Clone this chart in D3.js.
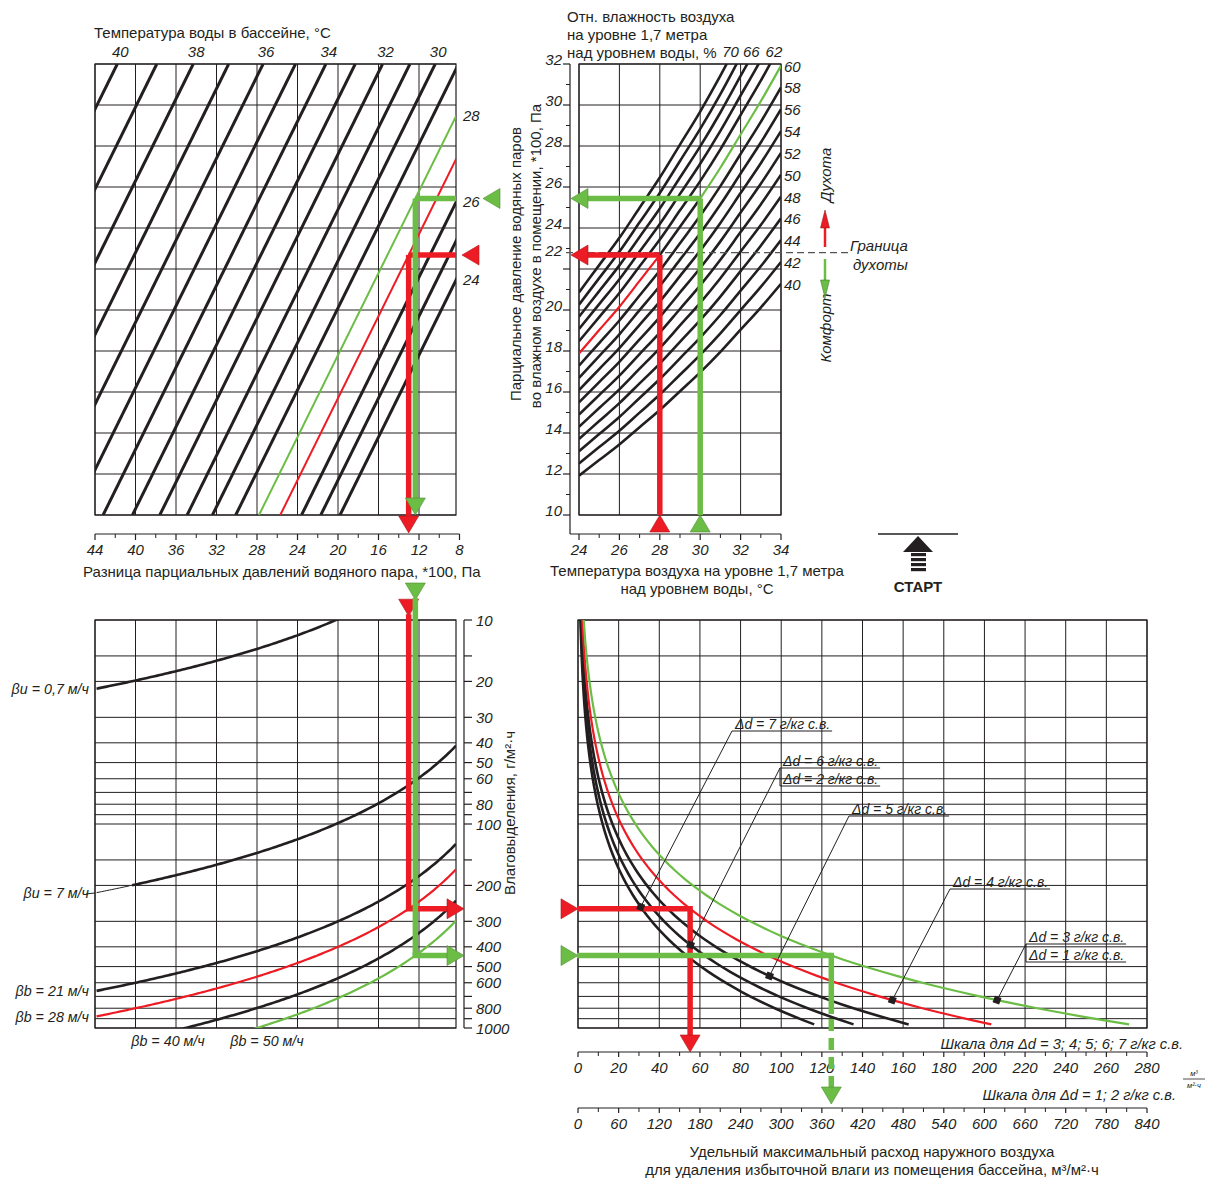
<!DOCTYPE html>
<html>
<head>
<meta charset="utf-8">
<title>Номограмма для расчёта воздухообмена бассейна</title>
<script src="https://cdnjs.cloudflare.com/ajax/libs/d3/7.8.5/d3.min.js"></script>
<style>
    body { margin: 0; background: #fff; }
    text { font-family: "Liberation Sans", Arial, sans-serif; fill: #231f20; }
    .it { font-style: italic; }
</style>
</head>
<body>
<div id="chart"></div>
<script>
    // ---- data ----
    var waterTemps = [24, 25, 26, 27, 28, 29, 30, 31, 32, 33, 34, 35, 36, 37, 38, 39, 40];
    // saturation pressure at each temperature, *100 Pa
    var satPressure = [29.8, 31.7, 33.6, 35.7, 37.8, 40.1, 42.4, 44.9, 47.6, 50.3, 53.2, 56.2, 59.4, 62.8, 66.3, 69.9, 73.8];
    var waterTopLabels = [40, 38, 36, 34, 32, 30];
    var waterSideLabels = [28, 26, 24];

    var airTemps = [24, 25, 26, 27, 28, 29, 30, 31, 32, 33, 34];
    var humidityLevels = [40, 42, 44, 46, 48, 50, 52, 54, 56, 58, 60, 62, 64, 66, 68, 70];
    var humiditySideLabels = [40, 42, 44, 46, 48, 50, 52, 54, 56, 58, 60];
    var humidityTopLabels = [70, 66, 62];
    var stuffyBorder = 22.8;

    var diffLabels = [44, 40, 36, 32, 28, 24, 20, 16, 12, 8];
    var diffMinor = [42, 38, 34, 30, 26, 22, 18, 14, 10];
    var pressureLabels = [10, 12, 14, 16, 18, 20, 22, 24, 26, 28, 30, 32];
    var pressureMinor = [11, 13, 15, 17, 19, 21, 23, 25, 27, 29, 31];
    var airLabels = [24, 26, 28, 30, 32, 34];
    var airMinor = [25, 27, 29, 31, 33];

    var rateTicks = [10, 15, 20, 30, 40, 50, 60, 70, 80, 90, 100, 150, 200, 300, 400, 500, 600, 700, 800, 900, 1000];
    var rateLabels = [10, 20, 30, 40, 50, 60, 80, 100, 200, 300, 400, 500, 600, 800, 1000];

    var betaNames = ["βu = 0,7 м/ч", "βu = 7 м/ч", "βb = 21 м/ч", "βb = 28 м/ч", "βb = 40 м/ч", "βb = 50 м/ч"];
    // moisture release per 100 Pa of pressure difference, g/(m²·h)
    var betaRates = [0.495, 4.95, 15, 20, 28.5, 35.7];

    var deltaD = [7, 6, 5, 4, 3];
    var deltaDNames = [["Δd = 7 г/кг с.в."], ["Δd = 6 г/кг с.в.", "Δd = 2 г/кг с.в."], ["Δd = 5 г/кг с.в."],
        ["Δd = 4 г/кг с.в."], ["Δd = 3 г/кг с.в.", "Δd = 1 г/кг с.в."]];
    var markerRates = [255, 392, 556, 730, 730];
    var airDensity = 1.18;
    var curveEndRate = 960;

    var flowLabels1 = [0, 20, 40, 60, 80, 100, 120, 140, 160, 180, 200, 220, 240, 260, 280];
    var flowMinor1 = [10, 30, 50, 70, 90, 110, 130, 150, 170, 190, 210, 230, 250, 270];
    var flowLabels2 = [0, 60, 120, 180, 240, 300, 360, 420, 480, 540, 600, 660, 720, 780, 840];
    var flowMinor2 = [30, 90, 150, 210, 270, 330, 390, 450, 510, 570, 630, 690, 750, 810];

    // two worked examples: red and green
    var routeWater = [27, 28];
    var routeAir = [28, 30];
    var routeHumidity = [60, 60];
    var routeHumiditySpan = [[24, 28], [30, 34]];
    var routeBeta = [3, 5];
    var routeDeltaD = [4, 1];

    // ---- styles ----
    var red = "#ed1c24", green = "#6cbd45", ink = "#231f20";
    var routeColor = [red, green];
    var routeSideOffset = [6, 27];
    var routeDropOffset = [18, 0];
    var fTitle = 15, fTick = 15, fNote = 14.3;

    function ps(t) { return satPressure[waterTemps.indexOf(t)]; }

    var svg = d3.select("#chart").append("svg").attr("width", 1206).attr("height", 1180);
    var defs = svg.append("defs");

    function clipRect(id, x0, y0, x1, y1) {
        defs.append("clipPath").attr("id", id).append("rect")
            .attr("x", x0).attr("y", y0).attr("width", x1 - x0).attr("height", y1 - y0);
    }

    function line(g, x1, y1, x2, y2, color, w) {
        return g.append("line").attr("x1", x1).attr("y1", y1).attr("x2", x2).attr("y2", y2)
            .attr("stroke", color).attr("stroke-width", w);
    }

    function label(g, x, y, txt, anchor, size, cls) {
        return g.append("text").attr("x", x).attr("y", y).attr("text-anchor", anchor || "start")
            .attr("font-size", size || fTick).attr("class", cls || "").text(txt);
    }

    function tri(g, tipX, tipY, dir, color) {
        var L = 17, h = 10, p;
        if (dir === "left") p = [[tipX, tipY], [tipX + L, tipY - h], [tipX + L, tipY + h]];
        else if (dir === "right") p = [[tipX, tipY], [tipX - L, tipY - h], [tipX - L, tipY + h]];
        else if (dir === "down") p = [[tipX, tipY], [tipX - h, tipY - L], [tipX + h, tipY - L]];
        else p = [[tipX, tipY], [tipX - h, tipY + L], [tipX + h, tipY + L]];
        g.append("path").attr("d", "M" + p.join("L") + "Z").attr("fill", color)
            .attr("stroke", d3.color(color).darker(0.8)).attr("stroke-width", 0.6);
    }

    // ---- scales ----
    var xDiff = d3.scaleLinear().domain([44, 12]).range([95, 419]);
    var yPress = d3.scaleLinear().domain([10, 32]).range([515, 64]);
    var xAir = d3.scaleLinear().domain([24, 34]).range([579, 781]);
    var yRate = d3.scaleLog().domain([10, 1000]).range([620, 1028]);
    var xFlow1 = d3.scaleLinear().domain([0, 280]).range([578, 1147]);
    var xFlow2 = d3.scaleLinear().domain([0, 840]).range([578, 1147]);

    var TL = { x0: 95, x1: 456, y0: 64, y1: 515 };
    var TR = { x0: 579, x1: 781, y0: 64, y1: 515 };
    var BL = { x0: 95, x1: 456, y0: 620, y1: 1028 };
    var BR = { x0: 578, x1: 1147, y0: 620, y1: 1028 };
    clipRect("cTL", TL.x0, TL.y0, TL.x1, TL.y1);
    clipRect("cTR", TR.x0, TR.y0, TR.x1, TR.y1);
    clipRect("cBL", BL.x0, BL.y0, BL.x1, BL.y1);
    clipRect("cBR", BR.x0, BR.y0, BR.x1, BR.y1);

    var diffGrid = diffLabels.concat(diffMinor).filter(function(d) { return d % 4 === 0 && xDiff(d) < TL.x1; });

    // ===== top-left: water temperature lines =====
    var tl = svg.append("g");
    diffGrid.forEach(function(d) { line(tl, xDiff(d), TL.y0, xDiff(d), TL.y1, ink, 1); });
    pressureLabels.forEach(function(p) { line(tl, TL.x0, yPress(p), TL.x1, yPress(p), ink, 1); });
    tl.append("rect").attr("x", TL.x0).attr("y", TL.y0).attr("width", TL.x1 - TL.x0).attr("height", TL.y1 - TL.y0)
        .attr("fill", "none").attr("stroke", ink).attr("stroke-width", 1.2);

    var tlLines = tl.append("g").attr("clip-path", "url(#cTL)");
    waterTemps.forEach(function(t) {
        var r = routeWater.indexOf(t);
        line(tlLines, xDiff(ps(t) - 10), yPress(10), xDiff(ps(t) - 32), yPress(32),
            r < 0 ? ink : routeColor[r], r < 0 ? 3 : 2);
    });
    waterTopLabels.forEach(function(t) {
        label(tl, xDiff(ps(t) - 32) + 3, 57, t, "middle", fTick, "it");
    });
    var edgeDiff = xDiff.invert(TL.x1);
    waterSideLabels.forEach(function(t) {
        label(tl, TL.x1 + 7, yPress(ps(t) - edgeDiff) + 5, t, "start", fTick, "it");
    });
    label(tl, 94, 38, "Температура воды в бассейне, °С", "start", fTitle);

    // axis under top-left
    var axY = 534;
    line(tl, xDiff(44), axY, xDiff(8), axY, ink, 1.2);
    diffLabels.forEach(function(d) {
        line(tl, xDiff(d), axY, xDiff(d), axY + 6, ink, 1.2);
        label(tl, xDiff(d), axY + 21, d, "middle", fTick, "it");
    });
    diffMinor.forEach(function(d) { line(tl, xDiff(d), axY, xDiff(d), axY + 4, ink, 1); });
    label(tl, 83, 577, "Разница парциальных давлений водяного пара, *100, Па", "start", fTitle);

    // ===== top-right: relative humidity lines =====
    var tr = svg.append("g");
    airLabels.forEach(function(t) { line(tr, xAir(t), TR.y0, xAir(t), TR.y1, ink, 1); });
    pressureLabels.forEach(function(p) { line(tr, TR.x0, yPress(p), TR.x1, yPress(p), ink, 1); });
    tr.append("rect").attr("x", TR.x0).attr("y", TR.y0).attr("width", TR.x1 - TR.x0).attr("height", TR.y1 - TR.y0)
        .attr("fill", "none").attr("stroke", ink).attr("stroke-width", 1.2);

    var trLines = tr.append("g").attr("clip-path", "url(#cTR)");
    var humLine = d3.line().curve(d3.curveMonotoneX)
        .x(function(d) { return xAir(d[0]); }).y(function(d) { return yPress(d[1]); });
    humidityLevels.forEach(function(h) {
        var pts = airTemps.map(function(t) { return [t, h / 100 * ps(t)]; });
        var r = routeHumidity.indexOf(h);
        if (r < 0) {
            trLines.append("path").attr("d", humLine(pts)).attr("fill", "none").attr("stroke", ink).attr("stroke-width", 2.6);
            return;
        }
        // black between the highlighted spans, coloured on the spans
        var lo = routeHumiditySpan[0][1], hi = routeHumiditySpan[1][0];
        trLines.append("path").attr("d", humLine(pts.filter(function(d) { return d[0] >= lo && d[0] <= hi; })))
            .attr("fill", "none").attr("stroke", ink).attr("stroke-width", 2.6);
        routeHumiditySpan.forEach(function(s, i) {
            trLines.append("path").attr("d", humLine(pts.filter(function(d) { return d[0] >= s[0] && d[0] <= s[1]; })))
                .attr("fill", "none").attr("stroke", routeColor[i]).attr("stroke-width", 2.2);
        });
    });
    humiditySideLabels.forEach(function(h) {
        label(tr, TR.x1 + 3, yPress(h / 100 * ps(34)) + 6, h, "start", fTick, "it");
    });
    humidityTopLabels.forEach(function(h) {
        // temperature where the line leaves the top edge
        var target = 32 * 100 / h, t0 = 24;
        for (var i = 0; i < airTemps.length - 1; i++) {
            if (ps(airTemps[i]) <= target && ps(airTemps[i + 1]) >= target) {
                t0 = airTemps[i] + (target - ps(airTemps[i])) / (ps(airTemps[i + 1]) - ps(airTemps[i]));
            }
        }
        label(tr, xAir(t0) + 4, 57, h, "middle", fTick, "it");
    });

    // left axis of top-right
    var axX = 570;
    line(tr, axX, TR.y0, axX, axY, ink, 1.2);
    pressureLabels.forEach(function(p) {
        line(tr, axX - 7, yPress(p), axX, yPress(p), ink, 1.2);
        if (p !== 22) label(tr, axX - 8, yPress(p) + 1, p, "end", fTick, "it");
    });
    label(tr, axX - 8, yPress(stuffyBorder) + 3, 22, "end", fTick, "it");
    pressureMinor.forEach(function(p) { line(tr, axX - 4, yPress(p), axX, yPress(p), ink, 1); });
    // bottom axis of top-right
    line(tr, axX, axY, TR.x1, axY, ink, 1.2);
    airLabels.forEach(function(t) {
        line(tr, xAir(t), axY, xAir(t), axY + 6, ink, 1.2);
        label(tr, xAir(t), axY + 21, t, "middle", fTick, "it");
    });
    airMinor.forEach(function(t) { line(tr, xAir(t), axY, xAir(t), axY + 4, ink, 1); });

    label(tr, 567, 22, "Отн. влажность воздуха", "start", fTitle);
    label(tr, 567, 40, "на уровне 1,7 метра", "start", fTitle);
    label(tr, 567, 58, "над уровнем воды, %", "start", fTitle);
    label(tr, 697, 576, "Температура воздуха на уровне 1,7 метра", "middle", fTitle);
    label(tr, 697, 594, "над уровнем воды, °С", "middle", fTitle);
    label(tr, 0, 0, "Парциальное давление водяных паров", "middle", fTitle)
        .attr("transform", "translate(521,264) rotate(-90)");
    label(tr, 0, 0, "во влажном воздухе в помещении, *100, Па", "middle", fTitle)
        .attr("transform", "translate(541,256) rotate(-90)");

    // stuffiness border
    line(tr, 566, yPress(stuffyBorder), 848, yPress(stuffyBorder), "#555", 1.2).attr("stroke-dasharray", "7,4");
    label(tr, 850, yPress(stuffyBorder) - 2, "Граница", "start", fTitle, "it");
    label(tr, 853, yPress(stuffyBorder) + 17, "духоты", "start", fTitle, "it");
    label(tr, 0, 0, "Духота", "middle", fTitle, "it").attr("transform", "translate(831,175) rotate(-90)");
    label(tr, 0, 0, "Комфорт", "middle", fTitle, "it").attr("transform", "translate(831,328) rotate(-90)");
    line(tr, 825, 247, 825, 226, red, 2.5);
    tr.append("path").attr("d", "M825,210L820.5,228L829.5,228Z").attr("fill", red).attr("stroke", "#7a1010").attr("stroke-width", 0.5);
    line(tr, 825, 259, 825, 281, green, 2.5);
    tr.append("path").attr("d", "M825,298L820.5,280L829.5,280Z").attr("fill", green).attr("stroke", "#2f6b1c").attr("stroke-width", 0.5);

    // start marker
    var st = svg.append("g");
    line(st, 878, axY, 958, axY, ink, 1.3);
    st.append("path").attr("d", "M918,536L903,552L933,552Z").attr("fill", ink);
    [553, 558, 563, 568].forEach(function(y) {
        st.append("rect").attr("x", 911).attr("y", y).attr("width", 15).attr("height", 3.2).attr("fill", ink);
    });
    label(st, 918, 592, "СТАРТ", "middle", 15).attr("font-weight", "bold");

    // ===== bottom-left: moisture release =====
    var bl = svg.append("g");
    diffGrid.forEach(function(d) { line(bl, xDiff(d), BL.y0, xDiff(d), BL.y1, ink, 1); });
    rateTicks.forEach(function(w) { line(bl, BL.x0, yRate(w), BL.x1, yRate(w), ink, 1); });
    bl.append("rect").attr("x", BL.x0).attr("y", BL.y0).attr("width", BL.x1 - BL.x0).attr("height", BL.y1 - BL.y0)
        .attr("fill", "none").attr("stroke", ink).attr("stroke-width", 1.2);

    var blLines = bl.append("g").attr("clip-path", "url(#cBL)");
    var diffSamples = d3.range(edgeDiff, 44.001, 0.25);
    var rateLine = d3.line()
        .x(function(d) { return xDiff(d[0]); }).y(function(d) { return yRate(d[1]); });
    betaRates.forEach(function(k, i) {
        var r = routeBeta.indexOf(i);
        var col = r < 0 ? ink : routeColor[r];
        var samples = diffSamples.filter(function(d) { return i !== 1 || d <= 40.5; });
        blLines.append("path").attr("d", rateLine(samples.map(function(d) { return [d, k * d]; })))
            .attr("fill", "none").attr("stroke", col).attr("stroke-width", r < 0 ? 2.6 : 2.2);
        if (i === 1) {
            var thin = diffSamples.filter(function(d) { return d >= 40.5; });
            blLines.append("path").attr("d", rateLine(thin.map(function(d) { return [d, k * d]; })))
                .attr("fill", "none").attr("stroke", ink).attr("stroke-width", 1);
        }
    });
    [0, 1, 2, 3].forEach(function(i) {
        var y = yRate(betaRates[i] * 44);
        label(bl, 89, y + 5, betaNames[i], "end", fNote, "it");
        if (i === 1) line(bl, 86, y + 1, BL.x0, y, ink, 1);
    });
    [[4, 168], [5, 267]].forEach(function(p) {
        bl.append("rect").attr("x", p[1] - 40).attr("y", BL.y1 + 1).attr("width", 80).attr("height", 20).attr("fill", "#fff");
        label(bl, p[1], 1046, betaNames[p[0]], "middle", fNote, "it");
    });

    var rx = 464;
    line(bl, rx, BL.y0, rx, BL.y1, ink, 1.2);
    rateTicks.forEach(function(w) { line(bl, rx, yRate(w), rx + 8, yRate(w), ink, 1.2); });
    rateLabels.forEach(function(w) { label(bl, rx + 12, yRate(w) + 5.5, w, "start", fTick, "it"); });
    label(bl, 0, 0, "Влаговыделения, г/м²·ч", "middle", fTitle).attr("transform", "translate(515,813) rotate(-90)");

    // ===== bottom-right: specific air flow =====
    var br = svg.append("g");
    flowLabels1.forEach(function(f) { line(br, xFlow1(f), BR.y0, xFlow1(f), BR.y1, ink, 1); });
    rateTicks.forEach(function(w) { line(br, BR.x0, yRate(w), BR.x1, yRate(w), ink, 1); });
    br.append("rect").attr("x", BR.x0).attr("y", BR.y0).attr("width", BR.x1 - BR.x0).attr("height", BR.y1 - BR.y0)
        .attr("fill", "none").attr("stroke", ink).attr("stroke-width", 1.2);

    var brLines = br.append("g").attr("clip-path", "url(#cBR)");
    var rateSamples = d3.range(0, 1.0001, 0.01).map(function(t) { return 10 * Math.pow(curveEndRate / 10, t); });
    var curveTone = { 4: red, 3: green };
    var flowLine = d3.line().x(function(d) { return xFlow1(d[0]); }).y(function(d) { return yRate(d[1]); });
    deltaD.forEach(function(dd) {
        brLines.append("path")
            .attr("d", flowLine(rateSamples.map(function(w) { return [w / (airDensity * dd), w]; })))
            .attr("fill", "none").attr("stroke", curveTone[dd] || ink).attr("stroke-width", curveTone[dd] ? 2.2 : 2.6);
    });

    // ===== example routes =====
    var routes = svg.append("g");
    function routeValues(i) {
        var p = routeHumidity[i] / 100 * ps(routeAir[i]);
        var dp = ps(routeWater[i]) - p;
        var w = betaRates[routeBeta[i]] * dp;
        var flow = w / (airDensity * routeDeltaD[i]);
        return { p: p, dp: dp, w: w, xf: routeDeltaD[i] >= 3 ? xFlow1(flow) : xFlow2(flow) };
    }
    var lw = 5.5;
    routeWater.forEach(function(tw, i) {
        var col = routeColor[i], v = routeValues(i);
        var x1 = xDiff(v.dp), y1 = yPress(v.p), xa = xAir(routeAir[i]);
        // top-right
        line(routes, TR.x0 + 8, y1, xa, y1, col, lw);
        line(routes, xa, y1, xa, TR.y1, col, lw);
        tri(routes, TR.x0 - 8, y1, "left", col);
        tri(routes, xa, TR.y1, "up", col);
        // top-left
        line(routes, x1, y1, TL.x1, y1, col, lw);
        line(routes, x1, y1, x1, TL.y1 + routeDropOffset[i] - 15, col, lw);
        tri(routes, TL.x1 + routeSideOffset[i], y1, "left", col);
        tri(routes, x1, TL.y1 + routeDropOffset[i], "down", col);
    });
    // entry marks above bottom-left: red first, green drawn over it
    routeWater.forEach(function(tw, i) {
        var v = routeValues(i);
        tri(routes, xDiff(v.dp), 600 + routeDropOffset[i] * 0.9, "down", routeColor[i]);
    });
    routeWater.forEach(function(tw, i) {
        var col = routeColor[i], v = routeValues(i);
        var x1 = xDiff(v.dp), yw = yRate(v.w), xf = v.xf;
        // bottom-left
        line(routes, x1, 598 + routeDropOffset[i] * 0.9, x1, yw, col, lw);
        line(routes, x1 - lw / 2, yw, rx - 17, yw, col, lw);
        tri(routes, rx, yw, "right", col);
        // bottom-right
        tri(routes, BR.x0, yw, "right", col);
        line(routes, BR.x0 - 1, yw, xf, yw, col, lw);
        var axisTip = routeDeltaD[i] >= 3 ? 1052 : 1104;
        if (routeDeltaD[i] >= 3) {
            line(routes, xf, yw - lw / 2, xf, axisTip - 15, col, lw);
        } else {
            line(routes, xf, yw - lw / 2, xf, BR.y1 - 14, col, lw);
            line(routes, xf, BR.y1 - 9, xf, axisTip - 17, col, lw).attr("stroke-dasharray", "12,7");
        }
        tri(routes, xf, axisTip, "down", col);
    });

    // callouts on the flow curves
    var callout = [[735, 729], [783, 766], [852, 814], [953, 887], [1029, 942]];
    var co = svg.append("g");
    deltaD.forEach(function(dd, i) {
        var w = markerRates[i];
        var mx = xFlow1(w / (airDensity * dd)), my = yRate(w);
        var tx = callout[i][0], ty = callout[i][1];
        var names = deltaDNames[i];
        names.forEach(function(n, k) {
            var t = label(co, tx, ty + k * 18, n, "start", 14, "it");
            var len = t.node().getComputedTextLength();
            line(co, tx - 3, ty + 2 + k * 18, tx + len + 2, ty + 2 + k * 18, ink, 1);
        });
        if (names.length > 1) line(co, tx - 3, ty + 2, tx - 3, ty + 20, ink, 1);
        line(co, tx - 3, ty + 2, mx, my, ink, 1);
        co.append("rect").attr("x", mx - 3.5).attr("y", my - 3.5).attr("width", 7).attr("height", 7)
            .attr("fill", ink).attr("transform", "rotate(20," + mx + "," + my + ")");
    });

    // flow scales
    var s1 = 1052, s2 = 1108;
    line(br, xFlow1(0), s1, xFlow1(280), s1, ink, 1.2);
    flowLabels1.forEach(function(f) {
        line(br, xFlow1(f), s1, xFlow1(f), s1 + 5, ink, 1.2);
        label(br, xFlow1(f), s1 + 21, f, "middle", fTick, "it");
    });
    flowMinor1.forEach(function(f) { line(br, xFlow1(f), s1, xFlow1(f), s1 + 4, ink, 1); });
    line(br, xFlow2(0), s2, xFlow2(840), s2, ink, 1.2);
    flowLabels2.forEach(function(f) {
        line(br, xFlow2(f), s2, xFlow2(f), s2 + 5, ink, 1.2);
        label(br, xFlow2(f), s2 + 21, f, "middle", fTick, "it");
    });
    flowMinor2.forEach(function(f) { line(br, xFlow2(f), s2, xFlow2(f), s2 + 4, ink, 1); });
    label(br, 1183, 1049, "Шкала для Δd = 3; 4; 5; 6; 7 г/кг с.в.", "end", 14.7, "it");
    label(br, 1176, 1100, "Шкала для Δd = 1; 2 г/кг с.в.", "end", 14.7, "it");
    label(br, 1194, 1076, "м³", "middle", 7.5, "it");
    line(br, 1183, 1079, 1205, 1079, ink, 0.8);
    label(br, 1194, 1088, "м²·ч", "middle", 7.5, "it");
    label(br, 872, 1157, "Удельный максимальный расход наружного воздуха", "middle", fTitle);
    label(br, 872, 1175, "для удаления избыточной влаги из помещения бассейна, м³/м²·ч", "middle", fTitle);
</script>
</body>
</html>
